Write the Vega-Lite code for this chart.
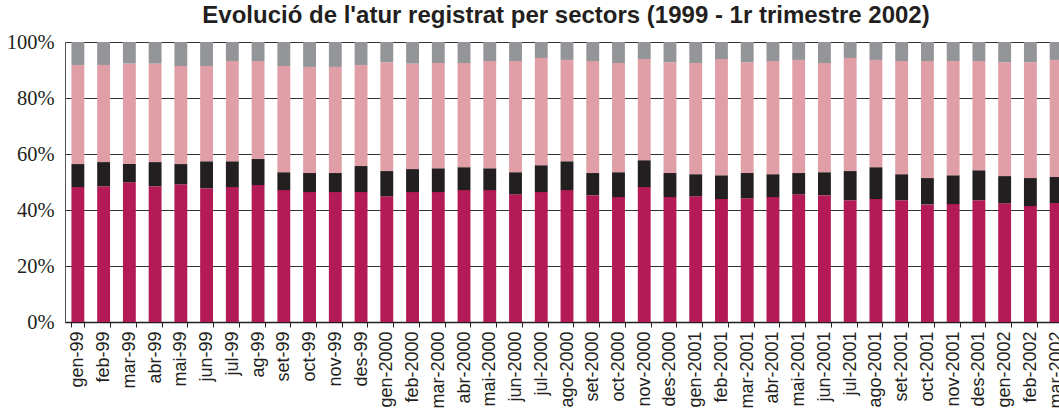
{
  "$schema": "https://vega.github.io/schema/vega-lite/v6.json",
  "autosize": "none",
  "width": 994,
  "height": 280,
  "padding": {"left": 65, "top": 42, "right": 0, "bottom": 86},
  "background": "white",
  "title": {
    "text": "Evolució de l'atur registrat per sectors (1999 - 1r trimestre 2002)",
    "font": "Liberation Sans",
    "fontSize": 24,
    "fontWeight": "bold",
    "color": "#231F20",
    "anchor": "middle",
    "dx": 4,
    "offset": 4
  },
  "data": {
    "values": [
      {"mes": "gen-99", "Serveis": 48.2, "Construcció": 8.2, "Indústria": 35.4, "Altres": 8.2},
      {"mes": "feb-99", "Serveis": 48.5, "Construcció": 8.6, "Indústria": 34.7, "Altres": 8.2},
      {"mes": "mar-99", "Serveis": 49.9, "Construcció": 6.5, "Indústria": 35.9, "Altres": 7.7},
      {"mes": "abr-99", "Serveis": 48.5, "Construcció": 8.6, "Indústria": 35.2, "Altres": 7.7},
      {"mes": "mai-99", "Serveis": 49.2, "Construcció": 7.2, "Indústria": 35.0, "Altres": 8.6},
      {"mes": "jun-99", "Serveis": 47.8, "Construcció": 9.6, "Indústria": 34.0, "Altres": 8.6},
      {"mes": "jul-99", "Serveis": 48.2, "Construcció": 9.2, "Indústria": 35.8, "Altres": 6.8},
      {"mes": "ag-99", "Serveis": 48.9, "Construcció": 9.3, "Indústria": 35.0, "Altres": 6.8},
      {"mes": "set-99", "Serveis": 47.1, "Construcció": 6.4, "Indústria": 37.9, "Altres": 8.6},
      {"mes": "oct-99", "Serveis": 46.4, "Construcció": 6.8, "Indústria": 37.9, "Altres": 8.9},
      {"mes": "nov-99", "Serveis": 46.4, "Construcció": 6.8, "Indústria": 37.9, "Altres": 8.9},
      {"mes": "des-99", "Serveis": 46.4, "Construcció": 9.3, "Indústria": 36.1, "Altres": 8.2},
      {"mes": "gen-2000", "Serveis": 44.9, "Construcció": 9.0, "Indústria": 38.9, "Altres": 7.2},
      {"mes": "feb-2000", "Serveis": 46.4, "Construcció": 8.2, "Indústria": 37.7, "Altres": 7.7},
      {"mes": "mar-2000", "Serveis": 46.4, "Construcció": 8.5, "Indústria": 37.6, "Altres": 7.5},
      {"mes": "abr-2000", "Serveis": 47.1, "Construcció": 8.2, "Indústria": 37.2, "Altres": 7.5},
      {"mes": "mai-2000", "Serveis": 47.1, "Construcció": 7.8, "Indústria": 38.3, "Altres": 6.8},
      {"mes": "jun-2000", "Serveis": 45.6, "Construcció": 7.9, "Indústria": 39.7, "Altres": 6.8},
      {"mes": "jul-2000", "Serveis": 46.4, "Construcció": 9.6, "Indústria": 38.3, "Altres": 5.7},
      {"mes": "ago-2000", "Serveis": 47.1, "Construcció": 10.3, "Indústria": 36.2, "Altres": 6.4},
      {"mes": "set-2000", "Serveis": 45.3, "Construcció": 7.9, "Indústria": 40.0, "Altres": 6.8},
      {"mes": "oct-2000", "Serveis": 44.6, "Construcció": 8.9, "Indústria": 39.0, "Altres": 7.5},
      {"mes": "nov-2000", "Serveis": 48.2, "Construcció": 9.6, "Indústria": 36.1, "Altres": 6.1},
      {"mes": "des-2000", "Serveis": 44.6, "Construcció": 8.6, "Indústria": 39.6, "Altres": 7.2},
      {"mes": "gen-2001", "Serveis": 44.9, "Construcció": 7.9, "Indústria": 39.7, "Altres": 7.5},
      {"mes": "feb-2001", "Serveis": 43.9, "Construcció": 8.5, "Indústria": 41.5, "Altres": 6.1},
      {"mes": "mar-2001", "Serveis": 44.2, "Construcció": 9.0, "Indústria": 39.6, "Altres": 7.2},
      {"mes": "abr-2001", "Serveis": 44.6, "Construcció": 8.2, "Indústria": 40.4, "Altres": 6.8},
      {"mes": "mai-2001", "Serveis": 45.6, "Construcció": 7.6, "Indústria": 40.4, "Altres": 6.4},
      {"mes": "jun-2001", "Serveis": 45.3, "Construcció": 8.2, "Indústria": 39.0, "Altres": 7.5},
      {"mes": "jul-2001", "Serveis": 43.5, "Construcció": 10.4, "Indústria": 40.4, "Altres": 5.7},
      {"mes": "ago-2001", "Serveis": 43.9, "Construcció": 11.4, "Indústria": 38.3, "Altres": 6.4},
      {"mes": "set-2001", "Serveis": 43.5, "Construcció": 9.3, "Indústria": 40.4, "Altres": 6.8},
      {"mes": "oct-2001", "Serveis": 42.0, "Construcció": 9.4, "Indústria": 41.8, "Altres": 6.8},
      {"mes": "nov-2001", "Serveis": 42.1, "Construcció": 10.3, "Indústria": 40.8, "Altres": 6.8},
      {"mes": "des-2001", "Serveis": 43.5, "Construcció": 10.7, "Indústria": 39.0, "Altres": 6.8},
      {"mes": "gen-2002", "Serveis": 42.4, "Construcció": 9.7, "Indústria": 40.7, "Altres": 7.2},
      {"mes": "feb-2002", "Serveis": 41.4, "Construcció": 10.0, "Indústria": 41.4, "Altres": 7.2},
      {"mes": "mar-2002", "Serveis": 42.5, "Construcció": 9.3, "Indústria": 41.8, "Altres": 6.4}
    ]
  },
  "transform": [
    {"fold": ["Serveis", "Construcció", "Indústria", "Altres"], "as": ["sector", "valor"]},
    {"window": [{"op": "row_number", "as": "ordre"}], "groupby": ["mes"]}
  ],
  "mark": {"type": "bar", "clip": true},
  "encoding": {
    "x": {
      "field": "mes",
      "type": "nominal",
      "sort": null,
      "scale": {"range": [0, 1004], "paddingInner": 0.5, "paddingOuter": 0.25},
      "axis": {
        "title": null,
        "labelAngle": -90,
        "labelFont": "Liberation Sans",
        "labelFontSize": 18,
        "labelColor": "#231F20",
        "labelPadding": 4,
        "tickBand": "extent",
        "tickSize": 5,
        "tickColor": "#231F20",
        "domainColor": "#231F20",
        "domainWidth": 1.5,
        "grid": false
      }
    },
    "y": {
      "field": "valor",
      "type": "quantitative",
      "stack": "normalize",
      "scale": {"domain": [0, 1], "nice": false},
      "axis": {
        "title": null,
        "values": [0, 0.2, 0.4, 0.6, 0.8, 1],
        "format": "~%",
        "labelFont": "Liberation Serif",
        "labelFontSize": 20.5,
        "labelColor": "#231F20",
        "labelPadding": 11,
        "ticks": false,
        "domainColor": "#555555",
        "domainWidth": 1,
        "grid": true,
        "gridColor": "#333333",
        "gridWidth": 1.2
      }
    },
    "color": {
      "field": "sector",
      "type": "nominal",
      "scale": {
        "domain": ["Serveis", "Construcció", "Indústria", "Altres"],
        "range": ["#B41A55", "#231F20", "#E09EA6", "#939598"]
      },
      "legend": null
    },
    "order": {"field": "ordre", "type": "quantitative", "sort": "ascending"}
  },
  "config": {"view": {"stroke": null}}
}
